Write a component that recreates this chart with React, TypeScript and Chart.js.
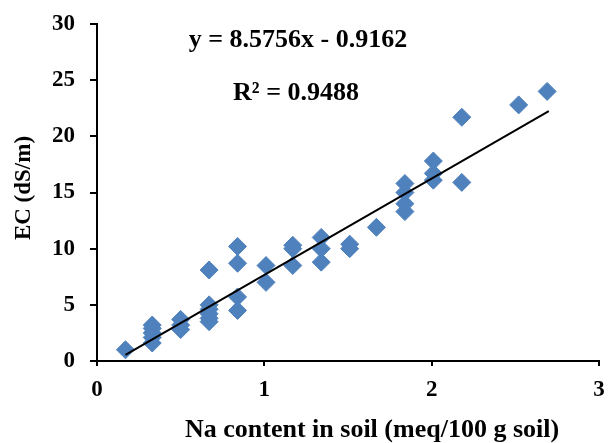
import React, { useEffect, useRef } from "react";
import { Chart, registerables } from "chart.js";

Chart.register(...registerables);

// Data
const naContent: number[] = [
  0.17,
  0.33, 0.33, 0.33, 0.33, 0.33,
  0.5, 0.5, 0.5,
  0.67, 0.67, 0.67, 0.67, 0.67, 0.67,
  0.84, 0.84, 0.84, 0.84,
  1.01, 1.01,
  1.17, 1.17, 1.17,
  1.34, 1.34, 1.34,
  1.51, 1.51,
  1.67,
  1.84, 1.84, 1.84, 1.84,
  2.01, 2.01, 2.01,
  2.18, 2.18,
  2.52,
  2.69,
];
const ecValues: number[] = [
  1.0,
  3.2, 2.9, 2.5, 2.1, 1.6,
  3.7, 3.2, 2.8,
  8.1, 5.0, 4.6, 4.2, 3.8, 3.5,
  10.2, 8.7, 5.7, 4.5,
  8.5, 7.0,
  10.3, 10.0, 8.5,
  11.0, 10.0, 8.8,
  10.4, 10.0,
  11.9,
  15.8, 15.0, 14.0, 13.3,
  17.8, 16.7, 16.1,
  21.7, 15.9,
  22.8,
  24.0,
];
const trendSlope = 8.5756;
const trendIntercept = -0.9162;
const trendX: number[] = [0.17, 2.7];
const xTicks: number[] = [0, 1, 2, 3];
const yTicks: number[] = [0, 5, 10, 15, 20, 25, 30];
const equationText = "y = 8.5756x - 0.9162";
const r2Text = "R² = 0.9488";
const xTitle = "Na content in soil (meq/100 g soil)";
const yTitle = "EC (dS/m)";

const FONT = "'Times New Roman', 'Liberation Serif', serif";

const textPlugin = {
  id: "textPlugin",
  afterDraw(chart: any) {
    const ctx = chart.ctx as CanvasRenderingContext2D;
    ctx.save();
    ctx.fillStyle = "#000";
    // equation
    ctx.font = `bold 26px ${FONT}`;
    ctx.textAlign = "center";
    ctx.textBaseline = "alphabetic";
    ctx.fillText(equationText, 298, 47);
    ctx.fillText(r2Text, 296, 100);
    // x title
    ctx.font = `bold 26px ${FONT}`;
    ctx.textAlign = "left";
    ctx.fillText(xTitle, 185, 437);
    // y title
    ctx.translate(24, 188);
    ctx.rotate(-Math.PI / 2);
    ctx.font = `bold 23px ${FONT}`;
    ctx.textAlign = "center";
    ctx.textBaseline = "middle";
    ctx.fillText(yTitle, 0, 0);
    ctx.restore();
  },
};

export default function App() {
  const ref = useRef<HTMLCanvasElement>(null);
  useEffect(() => {
    if (!ref.current) return;
    const scatterData = naContent.map((x, i) => ({ x, y: ecValues[i] }));
    const trendData = trendX.map((x) => ({ x, y: trendSlope * x + trendIntercept }));
    const chart = new Chart(ref.current, {
      type: "scatter",
      data: {
        datasets: [
          {
            label: "EC",
            data: scatterData,
            pointStyle: "rectRot",
            pointRadius: 9,
            pointHoverRadius: 9,
            backgroundColor: "#4F81BD",
            borderColor: "#4F81BD",
            borderWidth: 1,
            order: 2,
          },
          {
            label: "Trend",
            type: "line",
            data: trendData,
            borderColor: "#000",
            borderWidth: 2,
            pointRadius: 0,
            showLine: true,
            fill: false,
            order: 1,
          } as any,
        ],
      },
      options: {
        responsive: false,
        animation: false,
        plugins: { legend: { display: false }, tooltip: { enabled: false } },
        layout: { padding: { top: 24, right: 5, left: 0, bottom: 0 } },
        scales: {
          x: {
            type: "linear",
            min: 0,
            max: 3,
            afterBuildTicks: (s: any) => {
              s.ticks = xTicks.map((v) => ({ value: v }));
            },
            ticks: {
              color: "#000",
              font: { family: FONT, size: 23, weight: "bold" },
              padding: 10,
              maxRotation: 0,
            },
            grid: {
              drawOnChartArea: false,
              drawTicks: true,
              tickLength: 5,
              color: "#000",
              lineWidth: 2,
            },
            border: { color: "#000", width: 2 },
            afterFit: (s: any) => {
              s.height = 82;
              s.paddingLeft = 0;
              s.paddingRight = 0;
            },
          },
          y: {
            type: "linear",
            min: 0,
            max: 30,
            afterBuildTicks: (s: any) => {
              s.ticks = yTicks.map((v) => ({ value: v }));
            },
            ticks: {
              color: "#000",
              font: { family: FONT, size: 23, weight: "bold" },
              padding: 15,
            },
            grid: {
              drawOnChartArea: false,
              drawTicks: true,
              tickLength: 7,
              color: "#000",
              lineWidth: 2,
            },
            border: { color: "#000", width: 2 },
            afterFit: (s: any) => {
              s.width = 97;
              s.paddingTop = 0;
              s.paddingBottom = 0;
            },
          },
        },
      },
      plugins: [textPlugin],
    });
    return () => chart.destroy();
  }, []);
  return (
    <div style={{ position: "absolute", left: 0, top: 0, width: 609, height: 443, background: "#fff" }}>
      <canvas ref={ref} width={609} height={443} />
    </div>
  );
}
